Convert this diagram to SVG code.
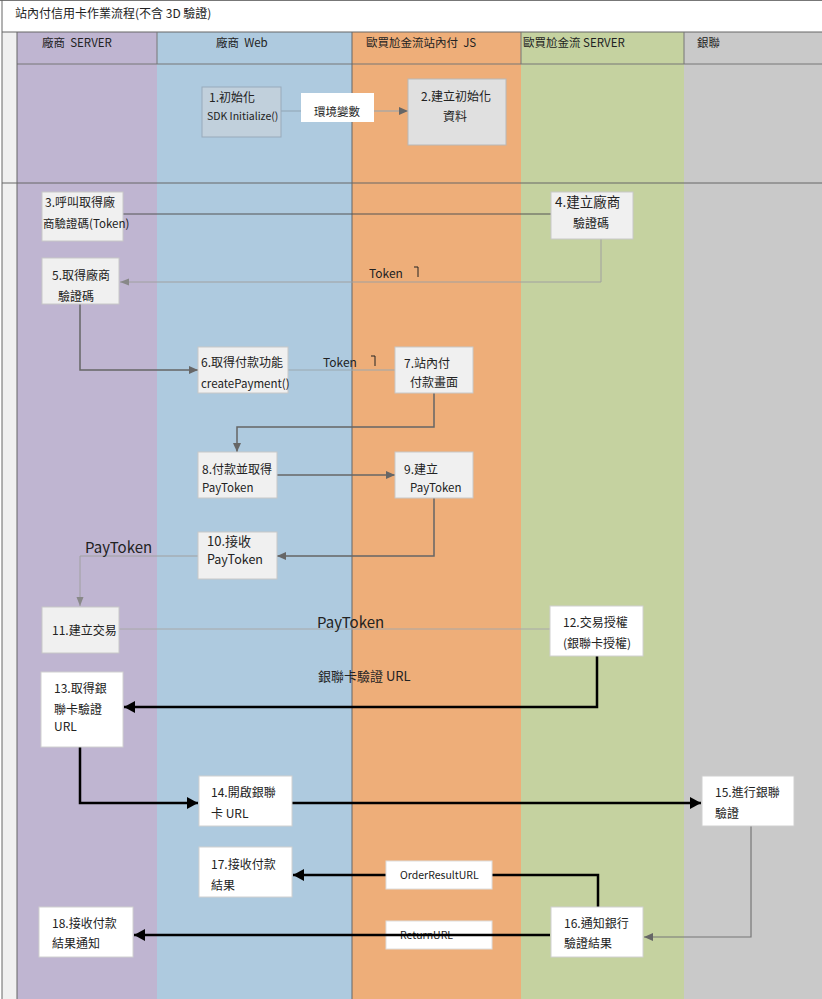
<svg xmlns="http://www.w3.org/2000/svg" width="822" height="999" viewBox="0 0 822 999">
<defs>
<style>
text{font-family:"Noto Sans CJK TC","Noto Sans",sans-serif;fill:#222;font-size:12px}
.hd{font-size:12px}
.sm{font-size:10.5px}
.mdt{font-size:11.5px}
.big{font-size:15px}
.n1{fill:#f0f0f0;stroke:#c8c8c8;stroke-width:1}
.n2{fill:#ffffff;stroke:#d0d0d0;stroke-width:1}
.thin{fill:none;stroke:#a0a0a0;stroke-width:1}
.mid{fill:none;stroke:#666;stroke-width:1.5}
.thick{fill:none;stroke:#000;stroke-width:2.5}
</style>
<marker id="ag" markerUnits="userSpaceOnUse" markerWidth="10" markerHeight="10" refX="9" refY="5" orient="auto"><path d="M0,1 L9,5 L0,9 Z" fill="#666"/></marker>
<marker id="agl" markerUnits="userSpaceOnUse" markerWidth="10" markerHeight="10" refX="9" refY="5" orient="auto"><path d="M0,1.5 L9,5 L0,8.5 Z" fill="#888"/></marker>
<marker id="ab" markerUnits="userSpaceOnUse" markerWidth="12" markerHeight="12" refX="11" refY="6" orient="auto"><path d="M0,0 L11,6 L0,12 Z" fill="#000"/></marker>
</defs>
<g id="lanes">
<rect x="0" y="0" width="822" height="999" fill="#ffffff"/>
<rect x="2" y="32" width="15" height="967" fill="#f0f0f0"/>
<rect x="17" y="32" width="140" height="967" fill="#bfb5d1"/>
<rect x="157" y="32" width="195" height="967" fill="#aecadf"/>
<rect x="352" y="32" width="169" height="967" fill="#eeae79"/>
<rect x="521" y="32" width="163" height="967" fill="#c5d2a0"/>
<rect x="684" y="32" width="138" height="967" fill="#c9c9c9"/>
<line x1="0" y1="0.5" x2="822" y2="0.5" stroke="#777"/>
<line x1="2" y1="0" x2="2" y2="999" stroke="#666"/>
<line x1="2" y1="32" x2="822" y2="32" stroke="#666"/>
<line x1="17" y1="64" x2="822" y2="64" stroke="#777"/>
<line x1="17" y1="32" x2="17" y2="999" stroke="#666"/>
<line x1="157" y1="32" x2="157" y2="64" stroke="#777"/>
<line x1="352" y1="32" x2="352" y2="999" stroke="#666"/>
<line x1="521" y1="32" x2="521" y2="64" stroke="#777"/>
<line x1="684" y1="32" x2="684" y2="64" stroke="#777"/>
<line x1="2" y1="183" x2="822" y2="183" stroke="#666"/>
<text x="15" y="18" class="hd">站內付信用卡作業流程(不含 3D 驗證)</text>
<text x="42" y="47" class="mdt" xml:space="preserve">廠商  SERVER</text>
<text x="216" y="47" class="mdt" xml:space="preserve">廠商  Web</text>
<text x="366" y="47" class="mdt" xml:space="preserve">歐買尬金流站內付  JS</text>
<text x="523" y="47" class="mdt">歐買尬金流 SERVER</text>
<text x="697" y="47" class="mdt">銀聯</text>
</g>
<g id="connectors">
<line x1="281" y1="111" x2="408" y2="111" stroke="#8fa3b3" stroke-width="1.2" marker-end="url(#ag)"/>
<line x1="120" y1="214" x2="551" y2="214" stroke="#555" stroke-width="1"/>
<polyline class="thin" points="601,239 601,282 120,282" marker-end="url(#agl)"/>
<polyline class="mid" points="80,304 80,370 198,370" marker-end="url(#ag)"/>
<line x1="288" y1="370" x2="395" y2="370" stroke="#9aa8b0" stroke-width="1"/>
<polyline class="mid" points="434,393 434,427 237,427 237,452" marker-end="url(#ag)"/>
<line class="mid" x1="277" y1="475" x2="395" y2="475" marker-end="url(#ag)"/>
<polyline class="mid" points="434,498 434,556 277,556" marker-end="url(#ag)"/>
<polyline class="thin" points="198,556 80,556 80,606" marker-end="url(#agl)"/>
<line x1="119" y1="629" x2="550" y2="629" stroke="#a8a8a8" stroke-width="1"/>
<polyline class="thick" points="597,656 597,707 124,707" marker-end="url(#ab)"/>
<polyline class="thick" points="80,747 80,803 198,803" marker-end="url(#ab)"/>
<line class="thick" x1="292" y1="803" x2="701" y2="803" marker-end="url(#ab)"/>
<polyline fill="none" stroke="#777" stroke-width="1.2" points="751,826 751,937 644,937" marker-end="url(#ag)"/>
<polyline class="thick" points="598,907 598,875 293,875" marker-end="url(#ab)"/>
<rect x="301" y="93" width="73" height="29" fill="#fff"/>
<text x="314" y="116" class="mdt">環境變數</text>
<text x="369" y="278">Token</text>
<polyline points="414,267 418,267 418,277" fill="none" stroke="#222" stroke-width="1"/>
<text x="323" y="367">Token</text>
<polyline points="371,356 375,356 375,366" fill="none" stroke="#222" stroke-width="1"/>
<text x="85" y="553" class="big">PayToken</text>
<text x="317" y="628" class="big">PayToken</text>
<text x="318" y="681" style="font-size:13px">銀聯卡驗證 URL</text>
<rect x="386" y="861" width="106" height="28" fill="#fff" stroke="#ddd"/>
<text x="400" y="879" class="sm">OrderResultURL</text>
<rect x="386" y="921" width="106" height="28" fill="#fff" stroke="#ddd"/>
<text x="400" y="939" class="sm">ReturnURL</text>
<line class="thick" x1="550" y1="935" x2="134" y2="935" marker-end="url(#ab)"/>
</g>
<g id="node1"><rect x="202" y="87" width="79" height="50" fill="#c1d0dc" stroke="#98aabb"/><text x="209" y="102">1.初始化</text><text x="207" y="120" class="sm">SDK Initialize()</text></g>
<g id="node2"><rect x="408" y="79" width="98" height="66" fill="#e0e0e0" stroke="#b8b8b8"/><text x="421" y="101">2.建立初始化</text><text x="443" y="121">資料</text></g>
<g id="node3"><rect class="n1" x="42" y="192" width="81" height="49"/><text x="45" y="207">3.呼叫取得廠</text><text x="43" y="228" class="mdt">商驗證碼(Token)</text></g>
<g id="node4"><rect class="n1" x="551" y="192" width="82" height="47"/><text x="555" y="207" style="font-size:13.5px">4.建立廠商</text><text x="573" y="228">驗證碼</text></g>
<g id="node5"><rect class="n1" x="42" y="258" width="77" height="46"/><text x="52" y="280">5.取得廠商</text><text x="58" y="301">驗證碼</text></g>
<g id="node6"><rect class="n1" x="198" y="347" width="90" height="46"/><text x="201" y="367">6.取得付款功能</text><text x="201" y="388" class="mdt">createPayment()</text></g>
<g id="node7"><rect class="n1" x="395" y="347" width="78" height="46"/><text x="404" y="368">7.站內付</text><text x="410" y="387">付款畫面</text></g>
<g id="node8"><rect class="n1" x="198" y="452" width="79" height="46"/><text x="202" y="474">8.付款並取得</text><text x="202" y="492" class="mdt">PayToken</text></g>
<g id="node9"><rect class="n1" x="395" y="452" width="78" height="46"/><text x="404" y="474">9.建立</text><text x="410" y="492" class="mdt">PayToken</text></g>
<g id="node10"><rect class="n1" x="198" y="532" width="79" height="47"/><text x="207" y="546" style="font-size:13px">10.接收</text><text x="207" y="564" style="font-size:12.5px">PayToken</text></g>
<g id="node11"><rect class="n1" x="42" y="607" width="77" height="46"/><text x="52" y="635">11.建立交易</text></g>
<g id="node12"><rect class="n2" x="550" y="606" width="93" height="50"/><text x="563" y="627">12.交易授權</text><text x="563" y="648">(銀聯卡授權)</text></g>
<g id="node13"><rect class="n2" x="41" y="672" width="82" height="75"/><text x="54" y="693">13.取得銀</text><text x="54" y="714">聯卡驗證</text><text x="54" y="731">URL</text></g>
<g id="node14"><rect class="n2" x="199" y="776" width="93" height="50"/><text x="211" y="797">14.開啟銀聯</text><text x="211" y="818">卡 URL</text></g>
<g id="node15"><rect class="n2" x="702" y="776" width="92" height="50"/><text x="715" y="797">15.進行銀聯</text><text x="715" y="818">驗證</text></g>
<g id="node16"><rect class="n2" x="551" y="907" width="92" height="50"/><text x="564" y="928">16.通知銀行</text><text x="564" y="948">驗證結果</text></g>
<g id="node17"><rect class="n2" x="199" y="847" width="93" height="50"/><text x="211" y="869">17.接收付款</text><text x="211" y="890">結果</text></g>
<g id="node18"><rect class="n2" x="39" y="907" width="94" height="50"/><text x="52" y="928">18.接收付款</text><text x="52" y="948">結果通知</text></g>
</svg>
